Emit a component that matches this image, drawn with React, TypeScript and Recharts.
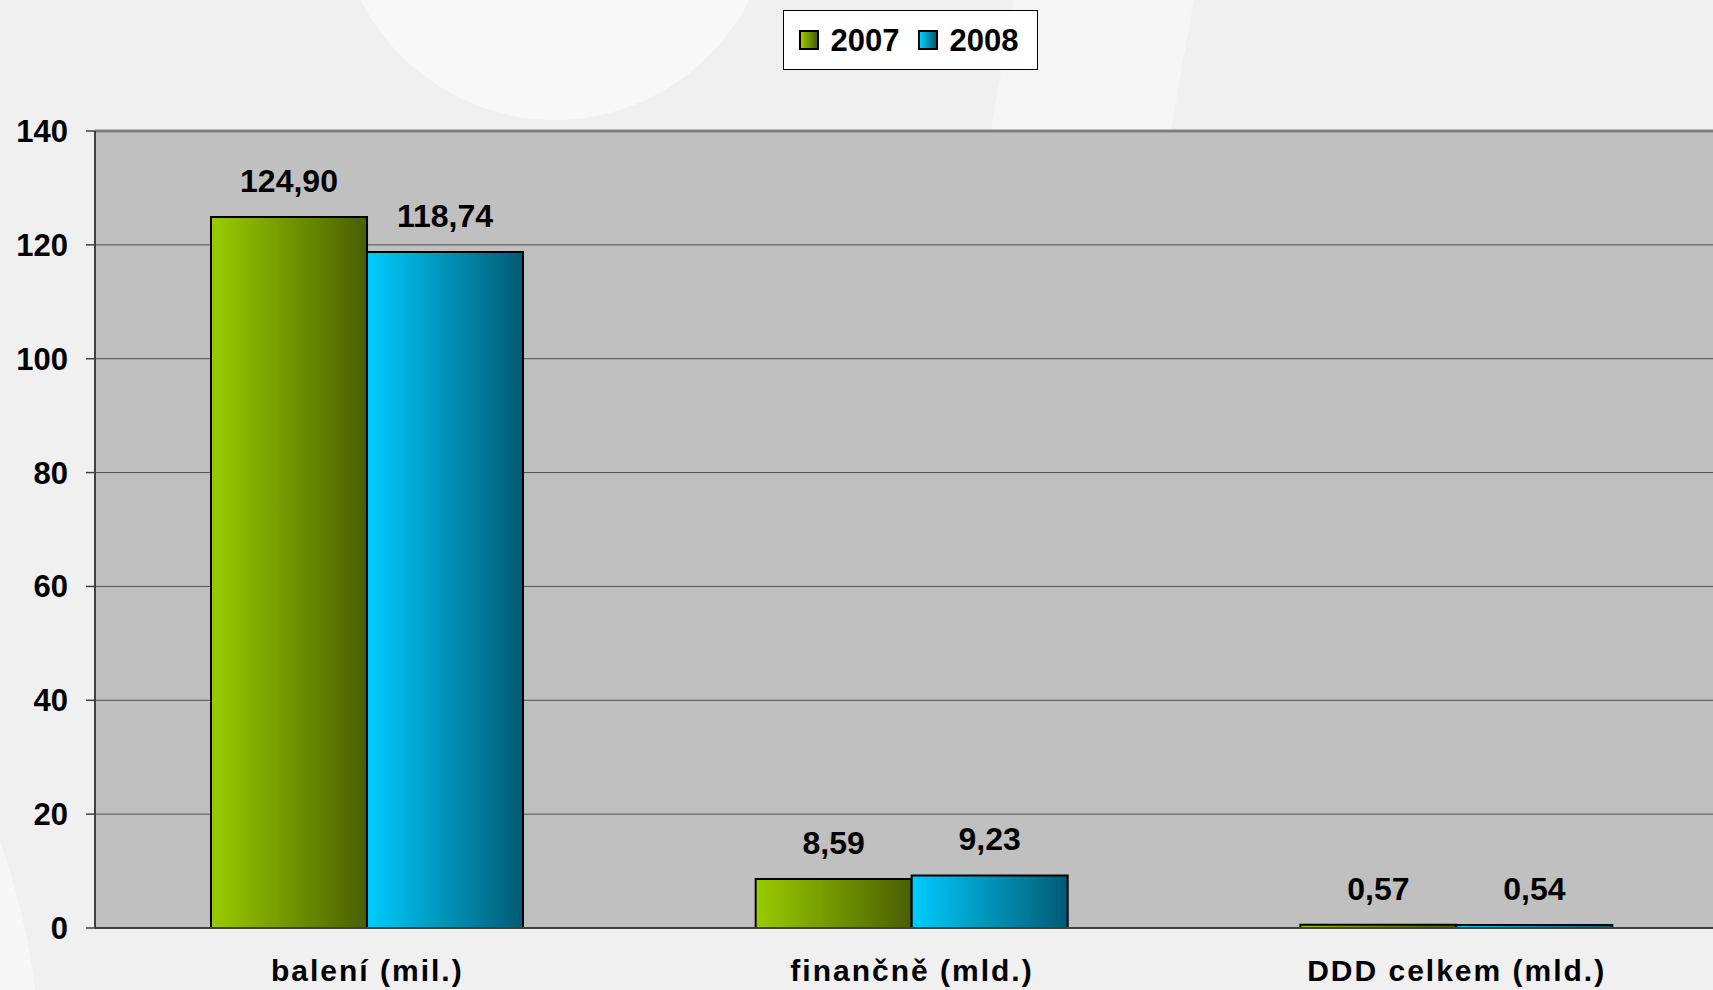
import React from "react";
import {
  BarChart,
  Bar,
  XAxis,
  YAxis,
  CartesianGrid,
  LabelList,
  ReferenceLine,
} from "recharts";

const categories = ["balení (mil.)", "finančně (mld.)", "DDD celkem (mld.)"];
const values2007 = [124.9, 8.59, 0.57];
const values2008 = [118.74, 9.23, 0.54];
const yTicks = [0, 20, 40, 60, 80, 100, 120, 140];
const edgeTicks = [0, 1, 2, 3];

const data = categories.map((name, i) => ({
  name,
  y2007: values2007[i],
  y2008: values2008[i],
}));

const fmt = (v: number) => v.toFixed(2).replace(".", ",");

const font = "'Liberation Sans', Arial, sans-serif";

const labelStyle = { fontSize: 32, fontWeight: 700, fill: "#000", fontFamily: font };

function LegendBox() {
  const item = (grad: string, text: string) => (
    <div style={{ display: "flex", alignItems: "center", marginRight: 4 }}>
      <div
        style={{
          width: 16,
          height: 16,
          border: "2px solid #000",
          background: grad,
          marginRight: 12,
        }}
      />
      <span style={{ fontSize: 31, fontWeight: 700, lineHeight: "31px" }}>{text}</span>
    </div>
  );
  return (
    <div
      style={{
        position: "absolute",
        left: 783,
        top: 10,
        width: 253,
        height: 58,
        border: "1px solid #000",
        background: "#fff",
        display: "flex",
        alignItems: "center",
        justifyContent: "center",
        gap: 14,
        fontFamily: font,
        boxSizing: "content-box",
      }}
    >
      {item("linear-gradient(to right, #99cc00, #4a5e00)", "2007")}
      {item("linear-gradient(to right, #00ccff, #005a73)", "2008")}
    </div>
  );
}

export default function App() {
  return (
    <div
      style={{
        position: "relative",
        width: 1713,
        height: 990,
        overflow: "hidden",
        background: "#f0f0f0",
        fontFamily: font,
      }}
    >
      <style>{"body{margin:0;overflow:hidden}"}</style>
      {/* faint background shapes */}
      <div
        style={{
          position: "absolute",
          left: 335,
          top: -330,
          width: 440,
          height: 450,
          borderRadius: "50%",
          background: "#f8f8f8",
        }}
      />
      <div
        style={{
          position: "absolute",
          left: -1300,
          top: 400,
          width: 1340,
          height: 1340,
          borderRadius: "50%",
          background: "#f7f7f7",
        }}
      />
      <div
        style={{
          position: "absolute",
          left: 1020,
          top: -200,
          width: 180,
          height: 330,
          background: "#f6f6f6",
          transform: "skewX(-10deg)",
        }}
      />
      <LegendBox />
      <div style={{ position: "absolute", left: 0, top: 0 }}>
        <BarChart
          width={1740}
          height={990}
          data={data}
          margin={{ top: 131, right: 11, bottom: 0, left: 0 }}
          barCategoryGap="21.3%"
          barGap={0}
        >
          <defs>
            <linearGradient id="g2007" x1="0" y1="0" x2="1" y2="0">
              <stop offset="0%" stopColor="#99cc00" />
              <stop offset="100%" stopColor="#4a5e00" />
            </linearGradient>
            <linearGradient id="g2008" x1="0" y1="0" x2="1" y2="0">
              <stop offset="0%" stopColor="#00ccff" />
              <stop offset="100%" stopColor="#005a73" />
            </linearGradient>
          </defs>
          <CartesianGrid
            vertical={false}
            fill="#c0c0c0"
            stroke="#505050"
            strokeWidth={1}
          />
          <XAxis
            xAxisId="edge"
            type="number"
            domain={[0, 3]}
            ticks={edgeTicks}
            tick={false}
            tickSize={9}
            axisLine={false}
            tickLine={{ stroke: "#404040", strokeWidth: 1.5 }}
            height={1}
          />
          <XAxis
            dataKey="name"
            tickLine={false}
            tickSize={0}
            tickMargin={32}
            height={61}
            axisLine={{ stroke: "#404040", strokeWidth: 2 }}
            tick={{ fontSize: 30, fontWeight: 700, fill: "#000", fontFamily: font, letterSpacing: 2 }}
            interval={0}
          />
          <YAxis
            domain={[0, 140]}
            ticks={yTicks}
            width={95}
            tickSize={9}
            tickMargin={18}
            axisLine={{ stroke: "#404040", strokeWidth: 2 }}
            tickLine={{ stroke: "#404040", strokeWidth: 1.5 }}
            tick={{ fontSize: 31, fontWeight: 700, fill: "#000", fontFamily: font }}
          />
          <ReferenceLine y={140} stroke="#808080" strokeWidth={3} />
          <Bar
            dataKey="y2007"
            fill="url(#g2007)"
            stroke="#000"
            strokeWidth={2}
            isAnimationActive={false}
          >
            <LabelList dataKey="y2007" position="top" offset={25} formatter={fmt} style={labelStyle} />
          </Bar>
          <Bar
            dataKey="y2008"
            fill="url(#g2008)"
            stroke="#000"
            strokeWidth={2}
            isAnimationActive={false}
          >
            <LabelList dataKey="y2008" position="top" offset={25} formatter={fmt} style={labelStyle} />
          </Bar>
        </BarChart>
      </div>
    </div>
  );
}
